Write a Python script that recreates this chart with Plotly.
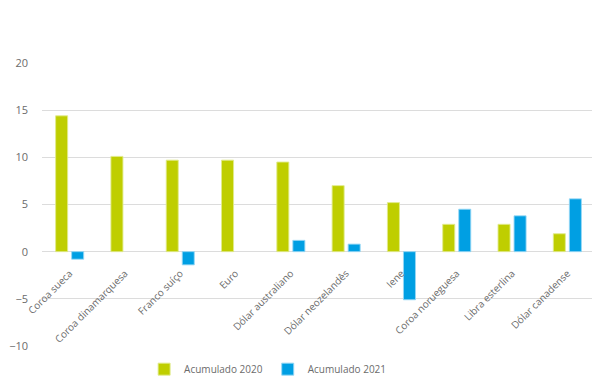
import plotly.graph_objects as go

categories = ["Coroa sueca", "Coroa dinamarquesa", "Franco suíço", "Euro",
              "Dólar australiano", "Dólar neozelandês", "Iene",
              "Coroa norueguesa", "Libra esterlina", "Dólar canadense"]
acum_2020 = [14.4, 10.1, 9.7, 9.7, 9.5, 7.0, 5.2, 2.9, 2.9, 1.9]
acum_2021 = [-0.8, None, -1.4, None, 1.2, 0.8, -5.1, 4.5, 3.8, 5.6]
y_ticks = [-10, -5, 0, 5, 10, 15, 20]

green = "#BFCE00"
blue = "#009FE3"
text_color = "#6B6B6B"
font_family = "Open Sans, Noto Sans, sans-serif"

fig = go.Figure()
fig.add_trace(go.Bar(x=categories, y=acum_2020, name="Acumulado 2020",
                     marker=dict(color=green, line=dict(color="rgba(225,235,140,0.9)", width=1))))
fig.add_trace(go.Bar(x=categories, y=acum_2021, name="Acumulado 2021",
                     marker=dict(color=blue, line=dict(color="rgba(150,215,245,0.9)", width=1))))

fig.update_layout(
    template="none",
    width=592, height=375,
    margin=dict(l=34, r=5, t=55, b=37, pad=0),
    paper_bgcolor="white", plot_bgcolor="white",
    barmode="group", bargap=0.42, bargroupgap=0.25,
    font=dict(family=font_family, color=text_color, size=11),
    showlegend=True,
    legend=dict(orientation="h", xref="paper", x=0.408, xanchor="center",
                yref="container", y=0.037, yanchor="middle",
                font=dict(size=10, color=text_color), itemwidth=30,
                traceorder="normal", bgcolor="rgba(0,0,0,0)"),
    xaxis=dict(anchor="free", position=1/3, showgrid=False, showline=False,
               zeroline=False, tickangle=-45, tickfont=dict(size=10, color=text_color),
               ticks="", automargin=False, ticklabelstandoff=13),
    yaxis=dict(range=[-10, 20], tickvals=y_ticks, showgrid=True, gridcolor="#DCDCDC",
               gridwidth=1, zeroline=True, zerolinecolor="#DCDCDC", zerolinewidth=1,
               showline=False, ticks="", tickfont=dict(size=11, color=text_color),
               automargin=False, ticklabelstandoff=13),
)

fig.write_html("out.html")
